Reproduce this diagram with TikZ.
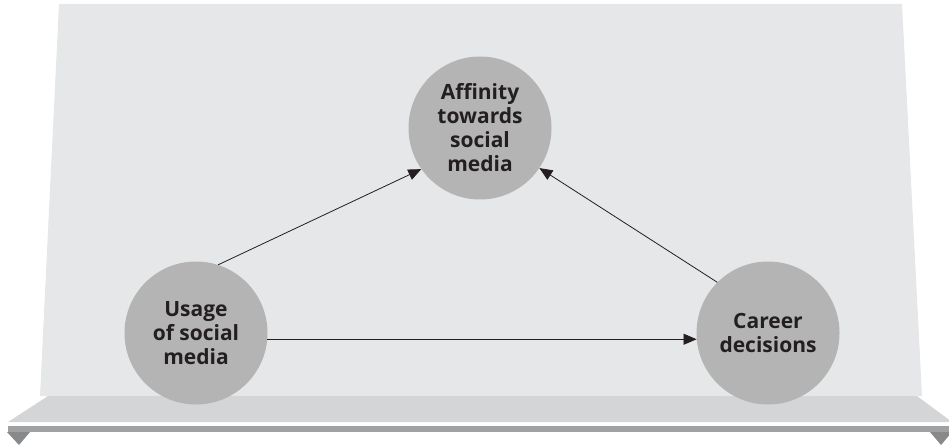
\documentclass[tikz,border=0pt]{standalone}
\usepackage{fontspec}
\setmainfont{Open Sans}
\usetikzlibrary{arrows.meta}
\definecolor{panel}{HTML}{E6E7E8}
\definecolor{shelf}{HTML}{D4D5D6}
\definecolor{shelfedge}{HTML}{A0A1A3}
\definecolor{foot}{HTML}{88898B}
\definecolor{ball}{HTML}{B4B4B4}
\definecolor{ink}{HTML}{231F20}
\begin{document}
\begin{tikzpicture}[x=1pt,y=-1pt,
  factor/.style={circle, fill=ball, minimum size=143pt, inner sep=0pt, align=center,
    text=ink, font=\fontsize{21}{24}\selectfont\bfseries},
  link/.style={draw=ink, line width=0.8pt, -{Triangle[length=13pt,width=11pt]}}]
\useasboundingbox (0,0) rectangle (949,446);
% shelf and back wall
\fill[panel] (59,4) -- (902,4) -- (922,396) -- (40,396) -- cycle;
\fill[shelf] (48,396) -- (917,396) -- (952,422) -- (8,422) -- cycle;
\fill[shelfedge] (8,426) rectangle (952,432);
\fill[foot] (7,432) -- (30,432) -- (19,445) -- cycle;
\fill[foot] (930,432) -- (952,432) -- (941,445) -- cycle;
% factors
\node[factor] (a) at (480,128) {Affinity\\towards\\social\\media};
\node[factor] (u) at (196,333) {Usage\\of social\\media};
\node[factor] (c) at (768,333) {Career\\decisions};
\draw[link] (u.72) -- (a.215);
\draw[link] (c.135) -- (a.326);
\draw[link] (u.-5.6) -- (c.185.6);
\end{tikzpicture}
\end{document}
